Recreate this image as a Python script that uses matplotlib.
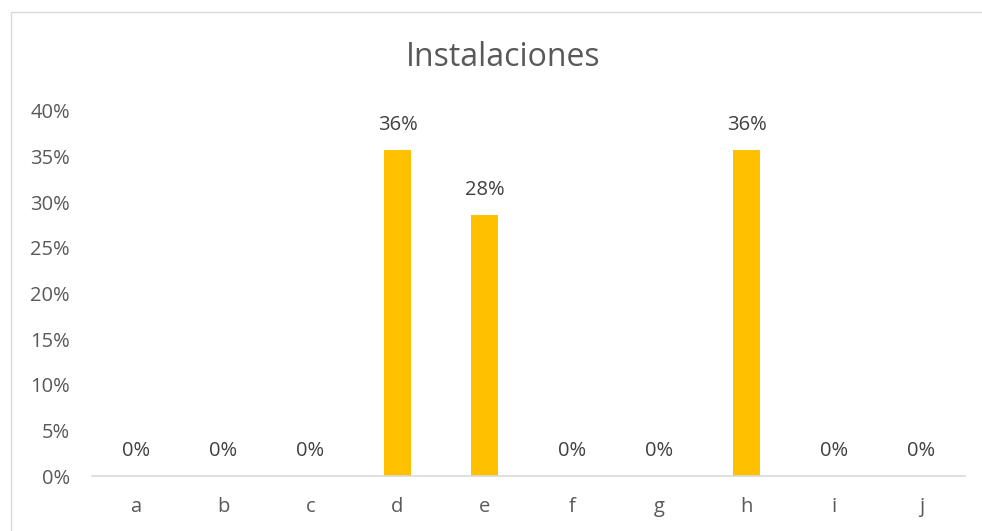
import matplotlib.pyplot as plt
from matplotlib.patches import Rectangle

categories = ['a', 'b', 'c', 'd', 'e', 'f', 'g', 'h', 'i', 'j']
values = [0.0, 0.0, 0.0, 0.357, 0.286, 0.0, 0.0, 0.357, 0.0, 0.0]
labels = ['0%', '0%', '0%', '36%', '28%', '0%', '0%', '36%', '0%', '0%']
yticks = [0, 0.05, 0.10, 0.15, 0.20, 0.25, 0.30, 0.35, 0.40]
ytick_labels = ['0%', '5%', '10%', '15%', '20%', '25%', '30%', '35%', '40%']

plt.rcParams['font.family'] = ['Open Sans', 'DejaVu Sans']
txt = '#595959'

fig = plt.figure(figsize=(9.82, 5.31), dpi=100)
# chart border
fig.patches.append(Rectangle((11 / 982, -0.01), 1.0, 1 - 12 / 531 + 0.01,
                             transform=fig.transFigure, fill=False,
                             edgecolor='#d9d9d9', linewidth=1))

ax = fig.add_axes([92 / 982, 1 - 476 / 531, (965 - 92) / 982, (476 - 111) / 531])
x = range(len(categories))
ax.bar(x, values, width=0.31, color='#ffc000')
for i, (v, l) in enumerate(zip(values, labels)):
    ax.annotate(l, (i, v), xytext=(0, 18), textcoords='offset points',
                ha='center', va='center', fontsize=14.5, color='#404040')

ax.set_xlim(-0.5, len(categories) - 0.5)
ax.set_ylim(0, 0.4)
ax.set_xticks(list(x))
ax.set_xticklabels(categories)
ax.set_yticks(yticks)
ax.set_yticklabels(ytick_labels)
ax.tick_params(axis='both', length=0, labelsize=14.5, colors=txt)
ax.tick_params(axis='x', pad=15)
ax.tick_params(axis='y', pad=16)
for side in ['top', 'right', 'left']:
    ax.spines[side].set_visible(False)
ax.spines['bottom'].set_color('#d9d9d9')
ax.spines['bottom'].set_linewidth(1.2)

fig.text(0.5125, 1 - 57 / 531, 'Instalaciones', ha='center', va='center',
         fontsize=23, color=txt)

fig.savefig('out.png', dpi=100)
